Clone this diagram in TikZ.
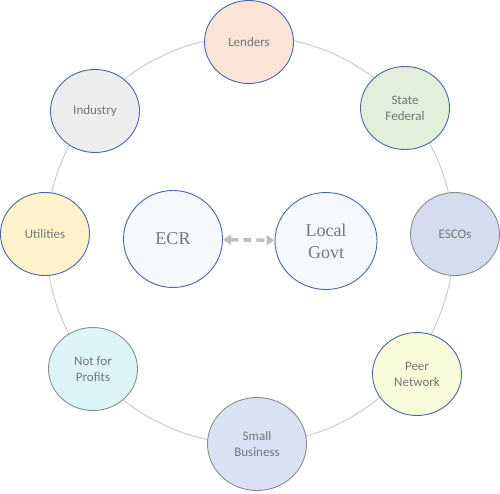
\documentclass[tikz,border=0pt]{standalone}
\usepackage{fontspec}
\setmainfont{Liberation Serif}
\setsansfont{Carlito}
\usepackage{tikz}
\usetikzlibrary{arrows.meta,positioning,shapes.geometric}
\definecolor{ringcolor}{RGB}{200,200,200}
\definecolor{bluebord}{RGB}{72,102,168}
\definecolor{graybord}{RGB}{140,140,140}
\definecolor{txtgray}{RGB}{118,118,118}
\definecolor{lendfill}{RGB}{251,228,213}
\definecolor{statefill}{RGB}{226,239,218}
\definecolor{escofill}{RGB}{214,220,240}
\definecolor{peerfill}{RGB}{248,251,217}
\definecolor{smallfill}{RGB}{217,225,242}
\definecolor{notfill}{RGB}{221,245,248}
\definecolor{utilfill}{RGB}{255,242,204}
\definecolor{indfill}{RGB}{237,237,237}
\definecolor{corefill}{RGB}{245,248,252}
\definecolor{arrowgray}{RGB}{191,191,191}
\tikzset{
  bubble/.style={ellipse, draw=bluebord, line width=0.9pt, minimum width=89pt,
    minimum height=83pt, inner sep=0pt, align=center, text=txtgray,
    font=\sffamily\fontsize{13}{16}\selectfont},
  graybub/.style={bubble, draw=graybord},
  corebub/.style={bubble, fill=corefill, minimum width=99pt, minimum height=97pt,
    font=\rmfamily\fontsize{18}{22}\selectfont},
  linkln/.style={{Triangle[length=8pt,width=10pt]}-{Triangle[length=8pt,width=10pt]},
    arrowgray, line width=3.6pt, dash pattern=on 8pt off 5pt},
}
\begin{document}
\begin{tikzpicture}[x=1pt,y=-1pt]
  \useasboundingbox (0,0) rectangle (500,494);
  % ring drawn first so the bubbles sit on top
  \draw[ringcolor, line width=0.9pt] (250,240) circle (204);
  % outer bubbles, clockwise from the top
  \node[bubble, fill=lendfill] (lenders) at (249,42) {Lenders};
  \node[bubble, fill=statefill] (state) at (405,108) {State\\Federal};
  \node[graybub, fill=escofill] (escos) at (455,234) {ESCOs};
  \node[bubble, fill=peerfill] (peer) at (417,374) {Peer\\Network};
  \node[graybub, fill=smallfill, minimum width=99pt, minimum height=93pt] (small) at (257,444) {Small\\Business};
  \node[graybub, fill=notfill] (nfp) at (93,369) {Not for\\Profits};
  \node[bubble, fill=utilfill] (util) at (45,234) {Utilities};
  \node[bubble, fill=indfill] (industry) at (95,111) {Industry};
  % the two in the middle
  \node[corebub] (ecr) at (173,239) {ECR};
  \node[corebub, minimum width=102pt] (govt) at (326,241) {Local\\Govt};
  \draw[linkln] (ecr) -- (govt);
\end{tikzpicture}
\end{document}
